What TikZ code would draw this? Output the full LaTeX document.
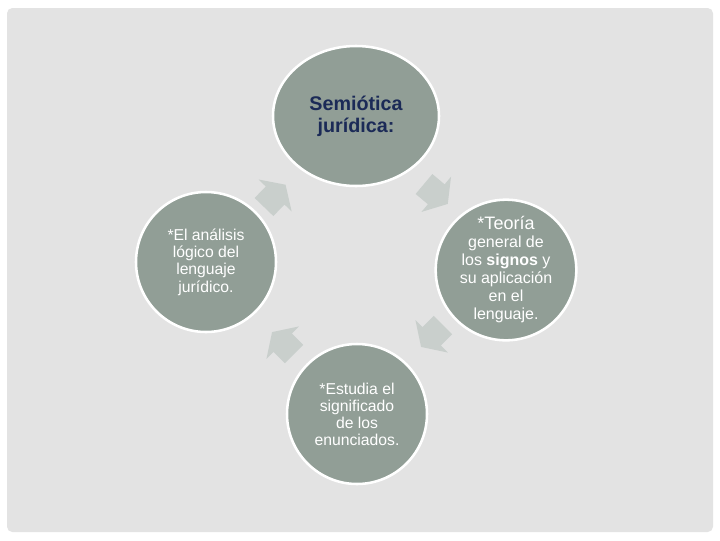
\documentclass[tikz,border=0pt]{standalone}
\usepackage{fontspec}
\setmainfont{Liberation Sans}
\usetikzlibrary{shapes.geometric}

\definecolor{panelgray}{HTML}{E3E3E3}
\definecolor{discfill}{HTML}{919E96}
\definecolor{cyclearrow}{HTML}{C9CFCC}
\definecolor{titlenavy}{HTML}{1B2A57}

\tikzset{
  disc/.style={circle,draw=white,line width=1.9pt,fill=discfill,minimum size=105pt,inner sep=0pt,align=center,text=white,font=\fontsize{11.8}{13}\selectfont},
  topdisc/.style={ellipse,draw=white,line width=1.9pt,fill=discfill,minimum width=124.5pt,minimum height=105pt,inner sep=0pt,align=center,text=titlenavy,font=\fontsize{14.8}{16.5}\selectfont\bfseries},
  cycarrow/.style={fill=cyclearrow}
}

\begin{document}
\begin{tikzpicture}[x=0.75pt,y=0.75pt,yscale=-1,xscale=1]
\useasboundingbox (0,0) rectangle (720,540);

%Background
\fill[white] (0,0) rectangle (720,540);
\fill[panelgray,rounded corners=4pt] (7,8) rectangle (713,532);

%Block Arrows
\fill[cycarrow,shift={(424,184)},rotate=40] (0,-13) -- (16,-13) -- (16,-23) -- (31,0) -- (16,23) -- (16,13) -- (0,13) -- cycle;
\fill[cycarrow,shift={(443,325)},rotate=135] (0,-13) -- (16,-13) -- (16,-23) -- (31,0) -- (16,23) -- (16,13) -- (0,13) -- cycle;
\fill[cycarrow,shift={(294,354)},rotate=225] (0,-13) -- (16,-13) -- (16,-23) -- (31,0) -- (16,23) -- (16,13) -- (0,13) -- cycle;
\fill[cycarrow,shift={(264,207)},rotate=314] (0,-13) -- (16,-13) -- (16,-23) -- (31,0) -- (16,23) -- (16,13) -- (0,13) -- cycle;

% Text Node
\node[topdisc] (semiotica) at (356,116) {Semiótica\\jurídica:};
% Text Node
\node[disc] (analisis) at (206,262) {*El análisis\\lógico del\\lenguaje\\jurídico.};
% Text Node
\node[disc,font=\fontsize{12}{13.5}\selectfont] (teoria) at (506,270) {{\fontsize{13.5}{14}\selectfont *Teoría}\\general de\\los \textbf{signos} y\\su aplicación\\en el\\lenguaje.};
% Text Node
\node[disc,font=\fontsize{11.8}{12.8}\selectfont] (estudia) at (357,414) {*Estudia el\\significado\\de los\\enunciados.};

\end{tikzpicture}
\end{document}
